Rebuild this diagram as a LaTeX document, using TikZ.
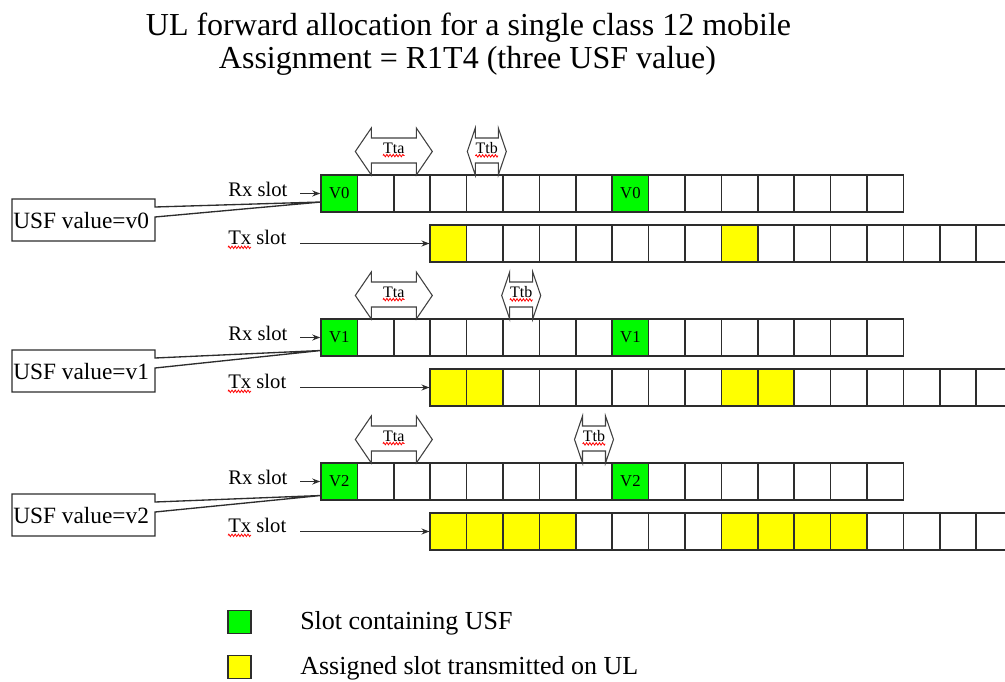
\documentclass[tikz,border=0pt]{standalone}
\usepackage{fontspec}
\setmainfont{Liberation Serif}
\usetikzlibrary{arrows.meta,decorations.pathmorphing}
\definecolor{usfgreen}{RGB}{0,250,0}
\definecolor{asgyellow}{RGB}{255,255,0}
\definecolor{edgec}{RGB}{45,45,45}
% #1 centre x, #2 half width, #3 head width, #4 row top y, #5 name, #6 label
\newcommand\timingarrow[6]{%
  \draw[tshape] ({#1-#2},{#4-23.5}) -- ({#1-#2+#3},{#4-47}) -- ({#1-#2+#3},{#4-37})
     -- ({#1+#2-#3},{#4-37}) -- ({#1+#2-#3},{#4-47}) -- ({#1+#2},{#4-23.5})
     -- ({#1+#2-#3},{#4}) -- ({#1+#2-#3},{#4-12}) -- ({#1-#2+#3},{#4-12})
     -- ({#1-#2+#3},{#4}) -- cycle;
  \node[tlab] (#5) at ({#1},{#4-27}) {#6};
  \draw[wavy] ([yshift=-1.5pt]#5.south west) -- ([yshift=-1.5pt]#5.south east);
}
\begin{document}
\begin{tikzpicture}[x=0.75pt,y=-0.75pt,
  cell/.style={draw=edgec,line width=1.1pt,minimum width=27.3pt,minimum height=27.75pt,
    inner sep=0pt,font=\fontsize{12.5}{12.5}\selectfont},
  lab/.style={inner sep=0pt,font=\fontsize{15.5}{18}\selectfont},
  usflab/.style={inner sep=0pt,font=\fontsize{17.5}{19}\selectfont},
  tlab/.style={inner sep=0pt,font=\fontsize{12}{12}\selectfont},
  titletext/.style={inner sep=0pt,font=\fontsize{24}{28}\selectfont},
  legtext/.style={inner sep=0pt,font=\fontsize{19.5}{22}\selectfont},
  legbox/.style={draw=edgec,line width=1.1pt,minimum size=17.25pt,inner sep=0pt},
  callout/.style={draw=edgec,line width=1pt,fill=white,line join=miter},
  tshape/.style={draw=black!75,line width=0.8pt,fill=white},
  arr/.style={draw=edgec,line width=0.9pt,-{Stealth[length=6pt,width=4.5pt]}},
  wavy/.style={draw=red,line width=0.6pt,decorate,decoration={zigzag,amplitude=0.9pt,segment length=2.4pt}}]
\useasboundingbox (0,0) rectangle (1005,681);
\clip (0,0) rectangle (1005,681);

% title
\node[titletext,anchor=base] (title1) at (468.5,36) {UL forward allocation for a single class 12 mobile};
\node[titletext,anchor=base] (title2) at (467.5,69) {Assignment = R1T4 (three USF value)};

% Rx rows
\foreach \s/\ry/\uv in {1/193.5/V0, 2/337.5/V1, 3/481.5/V2}{
  \foreach \i in {0,...,15}{
    \def\fc{white}\def\lab{}%
    \ifnum\i=0 \def\fc{usfgreen}\def\lab{\uv}\fi
    \ifnum\i=8 \def\fc{usfgreen}\def\lab{\uv}\fi
    \node[cell,fill=\fc] (r\s-\i) at ({321+36.4*(\i+0.5)},\ry) {\lab};
  }
}
% Tx rows
\foreach \s/\ty/\n in {1/243.5/1, 2/387.5/2, 3/531.5/4}{
  \foreach \i in {0,...,15}{
    \def\fc{white}%
    \ifnum\i<\n \def\fc{asgyellow}\fi
    \ifnum\i>7 \ifnum\i<\numexpr8+\n\relax \def\fc{asgyellow}\fi\fi
    \node[cell,fill=\fc] (t\s-\i) at ({321+36.4*(\i+3.5)},\ty) {};
  }
}

% labels and arrows
\foreach \s/\d in {1/0, 2/144, 3/288}{
  \node[lab,anchor=base west] (rx\s) at (228,196+\d) {Rx slot};
  \node[lab,anchor=base west] (tx\s) at (228,244+\d) {Tx slot};
  \coordinate (rxs\s) at (300,193.5+\d);
  \coordinate (txs\s) at (300,243.5+\d);
  \draw[arr] (rxs\s) -- (r\s-0.west);
  \draw[arr] (txs\s) -- (t\s-0.west);
  \draw[wavy] ([yshift=-2.5pt]tx\s.base west) -- ++(23,0);
}

% callouts
\foreach \s/\yt/\yp/\tx in {1/199/202/v0, 2/350/350.5/v1, 3/494/495.5/v2}{
  \draw[callout] (12,\yt) -- (155,\yt) -- (155,\yt+8) -- (321,\yp) -- (155,\yt+18)
     -- (155,\yt+42) -- (12,\yt+42) -- cycle;
  \node[usflab,anchor=base west] (usf\s) at (13,\yt+29) {USF value=\tx};
}

% timing arrows
\timingarrow{393.8}{38.5}{16}{175}{tta1}{Tta}
\timingarrow{486.8}{19.5}{8}{175}{ttb1}{Ttb}
\timingarrow{393.8}{38.5}{16}{319}{tta2}{Tta}
\timingarrow{521.2}{19.5}{8}{319}{ttb2}{Ttb}
\timingarrow{393.8}{38.5}{16}{463}{tta3}{Tta}
\timingarrow{594.0}{19.5}{8}{463}{ttb3}{Ttb}

% legend
\node[legbox,fill=usfgreen] (lg) at (239.5,622) {};
\node[legtext,anchor=base west] (lgt) at (300,629) {Slot containing USF};
\node[legbox,fill=asgyellow] (ly) at (239.5,667) {};
\node[legtext,anchor=base west] (lyt) at (300,674) {Assigned slot transmitted on UL};
\end{tikzpicture}
\end{document}
